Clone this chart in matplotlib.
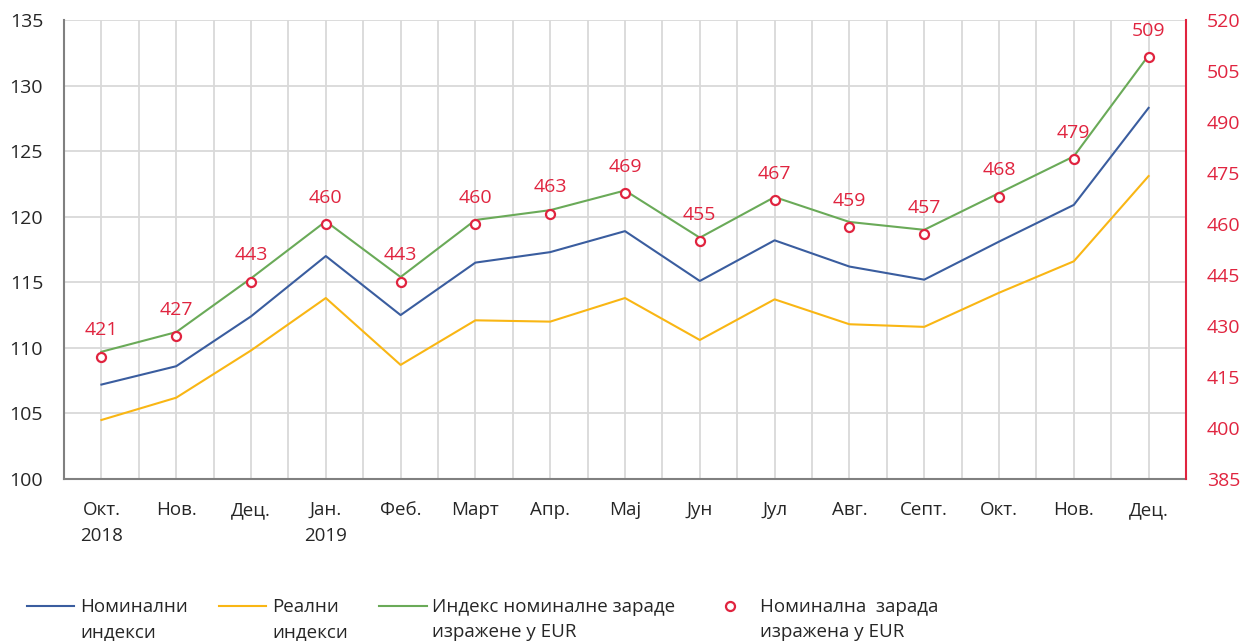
import matplotlib
matplotlib.use("Agg")
import matplotlib.pyplot as plt
import numpy as np
from matplotlib.legend_handler import HandlerLine2D
from matplotlib.transforms import Affine2D

plt.rcParams['font.family'] = ['Open Sans', 'DejaVu Sans']

months = ["Окт.\n2018", "Нов.", "Дец.", "Јан.\n2019", "Феб.", "Март", "Апр.", "Мај",
          "Јун", "Јул", "Авг.", "Септ.", "Окт.", "Нов.", "Дец."]
nominal_idx = [107.2, 108.6, 112.4, 117.0, 112.5, 116.5, 117.3, 118.9,
               115.1, 118.2, 116.2, 115.2, 118.1, 120.9, 128.3]
real_idx = [104.5, 106.2, 109.8, 113.8, 108.7, 112.1, 112.0, 113.8,
            110.6, 113.7, 111.8, 111.6, 114.2, 116.6, 123.1]
eur_idx = [109.7, 111.2, 115.3, 119.65, 115.4, 119.75, 120.5, 122.0,
           118.4, 121.5, 119.6, 119.0, 121.8, 124.6, 132.3]
wage_eur = [421, 427, 443, 460, 443, 460, 463, 469, 455, 467, 459, 457, 468, 479, 509]

BLUE = '#3A5D9F'
ORANGE = '#F9B614'
GREEN = '#6AAA58'
RED = '#E0243F'
GRID = '#D9D9D9'
TXT = '#262626'


class RaisedLineHandler(HandlerLine2D):
    """Legend handle aligned with the first line of a two-line label."""

    def __init__(self, dy, **kw):
        super().__init__(**kw)
        self.dy = dy

    def create_artists(self, legend, orig_handle, xdescent, ydescent,
                       width, height, fontsize, trans):
        shifted = trans + Affine2D().translate(0, self.dy)
        return super().create_artists(legend, orig_handle, xdescent, ydescent,
                                      width, height, fontsize, shifted)


fig = plt.figure(figsize=(12.42, 6.41), dpi=100)
ax = fig.add_axes([64/1242, (641-479)/641, (1186-64)/1242, (479-20)/641])
x = np.arange(len(months))

l1, = ax.plot(x, nominal_idx, color=BLUE, lw=1.5, label="Номинални\nиндекси", zorder=3)
l2, = ax.plot(x, real_idx, color=ORANGE, lw=1.5, label="Реални\nиндекси", zorder=3)
l3, = ax.plot(x, eur_idx, color=GREEN, lw=1.5, label="Индекс номиналне зараде\nизражене у EUR", zorder=3)

ax.set_xlim(-0.5, len(months) - 0.5)
ax.set_ylim(100, 135)
ax.set_yticks(np.arange(100, 136, 5))
ax.set_xticks(x)
ax.set_xticklabels(months)
ax.set_xticks(np.arange(-0.5, len(months), 1.0), minor=True)
ax.grid(True, which='both', axis='x', color=GRID, lw=1.3, zorder=0)
ax.grid(True, which='major', axis='y', color=GRID, lw=1.3, zorder=0)
ax.set_axisbelow(True)
ax.tick_params(axis='both', which='both', length=0)
ax.tick_params(axis='y', labelsize=14, pad=15, labelcolor=TXT)
ax.tick_params(axis='x', labelsize=13.5, pad=16, labelcolor=TXT)
for lab in ax.get_xticklabels():
    lab.set_linespacing(1.55)
for s in ['top', 'right']:
    ax.spines[s].set_visible(False)
ax.spines['left'].set_color('#808080')
ax.spines['left'].set_linewidth(1.5)
ax.spines['bottom'].set_color('#808080')
ax.spines['bottom'].set_linewidth(1.5)

ax2 = ax.twinx()
ax2.set_ylim(385, 520)
ax2.set_yticks(np.arange(385, 521, 15))
ax2.tick_params(axis='y', length=0, labelsize=14, pad=15, labelcolor=RED)
for s in ['top', 'left', 'bottom']:
    ax2.spines[s].set_visible(False)
ax2.spines['right'].set_color(RED)
ax2.spines['right'].set_linewidth(1.5)
l4, = ax2.plot(x, wage_eur, linestyle='none', marker='o', markersize=6.5,
               markerfacecolor='white', markeredgecolor=RED, markeredgewidth=1.6,
               label="Номинална  зарада\nизражена у EUR", zorder=4)
for xi, v in zip(x, wage_eur):
    ax2.annotate(str(v), (xi, v), xytext=(0, 19), textcoords='offset points',
                 ha='center', va='center', color=RED, fontsize=14)

handles = [l1, l2, l3, l4]
leg = fig.legend(handles=handles, loc='upper left',
                 bbox_to_anchor=(19/1242, 1 - 590/641), ncol=4, frameon=False,
                 fontsize=13.5, handlelength=2.55, handletextpad=0.3,
                 columnspacing=1.65, borderaxespad=0,
                 handler_map={h: RaisedLineHandler(13.5) for h in handles})
for t in leg.get_texts():
    t.set_linespacing(1.55)
    t.set_color(TXT)

fig.savefig("out.png", dpi=100)
